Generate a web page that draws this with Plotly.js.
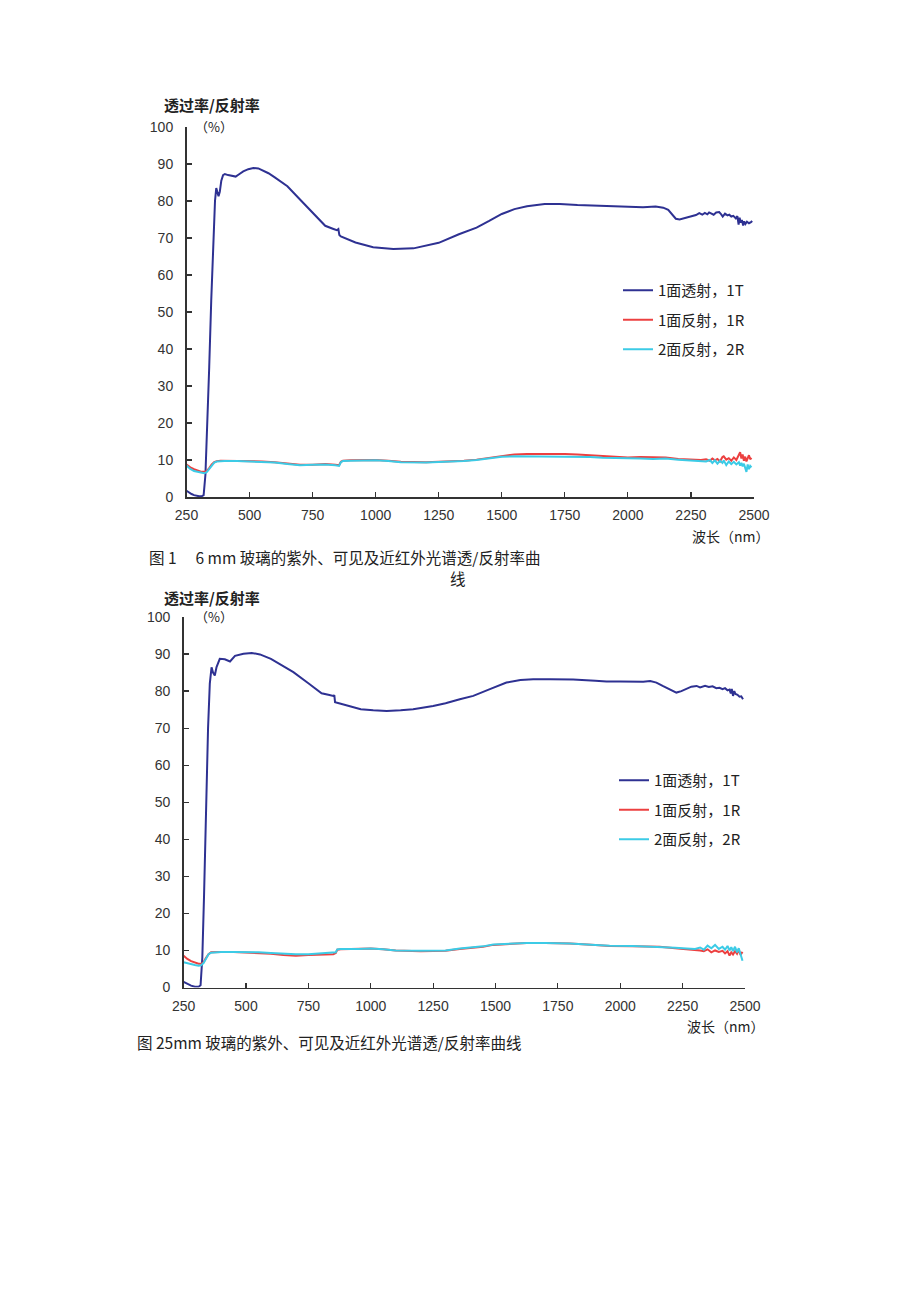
<!DOCTYPE html>
<html>
<head>
<meta charset="utf-8">
<script src="https://cdn.plot.ly/plotly-3.0.1.min.js"></script>
<style>html,body{margin:0;padding:0;background:#fff;}#chart{width:920px;height:1301px;}</style>
</head>
<body>
<div id="chart"></div>
<script>
// ---------- Data ----------
var xTicks = [250, 500, 750, 1000, 1250, 1500, 1750, 2000, 2250, 2500];
var yTicks = [0, 10, 20, 30, 40, 50, 60, 70, 80, 90, 100];
var seriesNames = ["1面透射，1T", "1面反射，1R", "2面反射，2R"];

// Figure 1 (6 mm glass) — transmittance 1T
var fig1_wlT = [250,260,270,280,290,300,310,318,325,332,340,348,356,363,368,372,377,382,388,395,402,415,430,445,460,475,495,515,535,550,575,600,650,700,750,800,830,846,852,856,862,880,920,990,1070,1150,1250,1330,1400,1450,1500,1550,1600,1670,1730,1800,1900,2000,2060,2110,2140,2160,2175,2190,2205,2220,2240,2255,2270,2283,2295,2305,2315,2322,2332,2340,2350,2362,2370,2376,2385,2395,2402,2410,2418,2428,2434,2439,2443,2447,2452,2457,2461,2466,2472,2480,2488,2493];
var fig1_T1 = [1.7,1.2,0.8,0.5,0.3,0.2,0.2,0.5,6,18,35,53,70,80,83.5,82.5,81.3,82.5,85.5,87,87.3,87.0,86.8,86.6,87.3,88.0,88.6,88.9,88.8,88.3,87.5,86.4,84.0,80.4,76.8,73.3,72.5,72.1,72.4,70.8,70.4,69.9,68.8,67.5,67.0,67.2,68.7,71.0,72.8,74.6,76.5,77.8,78.6,79.2,79.2,78.9,78.6,78.4,78.3,78.5,78.2,77.6,76.5,75.2,75.0,75.3,75.6,75.9,76.2,76.7,76.3,76.8,76.4,76.9,76.6,76.3,76.9,77.0,76.4,75.8,76.6,76.1,76.3,75.8,76.0,75.3,75.9,73.6,75.5,74.2,74.9,73.4,74.5,73.8,74.4,74.0,74.3,74.6];

// Figure 1 — reflectance 1R and 2R
var fig1_wlR = [250,265,280,295,310,320,330,340,350,360,370,385,400,450,500,550,600,650,700,750,800,840,855,862,870,900,950,1000,1050,1100,1200,1300,1350,1400,1450,1480,1500,1550,1600,1700,1750,1800,1850,1900,1950,2000,2050,2100,2150,2200,2250,2290,2310,2325,2335,2345,2355,2365,2375,2380,2390,2400,2410,2420,2430,2440,2445,2450,2455,2460,2465,2470,2475,2480,2485,2490];
var fig1_R1 = [8.8,8.0,7.5,7.1,6.8,6.8,7.0,7.8,8.8,9.4,9.7,9.8,9.8,9.8,9.7,9.6,9.4,9.0,8.7,8.7,8.9,8.7,8.6,9.5,9.8,9.9,10.0,10.0,9.8,9.5,9.4,9.6,9.8,10.1,10.6,11.0,11.2,11.5,11.6,11.7,11.6,11.5,11.3,11.0,11.0,10.7,10.8,10.7,10.7,10.3,10.1,10.0,10.2,9.8,10.4,9.9,10.3,9.6,10.8,11.0,10.1,10.5,9.8,10.7,10.0,11.2,12.1,10.4,11.5,9.8,10.9,9.6,10.5,11.3,10.2,10.6];
var fig1_R2 = [8.5,7.6,7.0,6.7,6.5,6.4,6.7,7.6,8.6,9.3,9.6,9.7,9.7,9.7,9.6,9.5,9.3,8.9,8.6,8.7,8.8,8.6,8.4,9.4,9.7,9.8,9.9,9.9,9.7,9.4,9.3,9.5,9.7,10.0,10.4,10.7,10.9,11.0,11.0,11.0,11.0,10.9,10.8,10.6,10.6,10.4,10.4,10.3,10.4,10.1,9.9,9.8,9.6,10.0,9.2,9.9,9.0,9.8,9.2,9.9,8.6,9.6,8.9,9.5,8.8,9.4,8.5,9.2,8.3,9.0,7.6,6.8,8.8,7.5,8.4,8.0];

// Figure 2 (25 mm glass) — transmittance 1T
var fig2_wlT = [250,265,280,295,310,318,325,332,340,348,355,362,368,375,382,395,415,436,456,490,523,556,600,650,690,750,803,830,850,854,857,880,920,960,1010,1064,1120,1170,1250,1300,1357,1411,1480,1544,1600,1651,1720,1811,1900,1945,2000,2050,2092,2120,2145,2170,2200,2225,2245,2265,2285,2306,2320,2340,2355,2370,2385,2398,2410,2420,2430,2438,2443,2447,2452,2457,2462,2470,2478,2485,2492];
var fig2_T1 = [1.5,0.9,0.5,0.2,0.2,0.6,8,25,50,70,82,86.4,85.0,84.2,86.5,88.7,88.6,88.0,89.5,90.1,90.3,89.9,88.7,86.8,85.1,82.1,79.4,79.0,78.7,78.9,77.0,76.6,75.8,75.1,74.8,74.6,74.8,75.1,76.0,76.7,77.8,78.7,80.6,82.3,83.0,83.2,83.2,83.1,82.8,82.6,82.6,82.5,82.5,82.7,82.3,81.4,80.3,79.6,80.0,80.6,81.2,81.4,81.0,81.4,81.1,81.3,80.8,80.9,80.5,80.8,80.2,80.4,79.4,80.6,78.7,80.0,79.2,79.0,78.5,78.6,77.8];

// Figure 2 — reflectance 1R and 2R
var fig2_wlR = [250,265,280,295,310,320,330,340,350,360,380,400,450,500,550,600,650,700,750,800,850,860,866,880,950,1000,1050,1100,1200,1300,1357,1400,1450,1491,1550,1625,1700,1798,1900,1958,2050,2158,2220,2266,2300,2320,2335,2350,2365,2380,2395,2410,2420,2430,2438,2445,2452,2460,2468,2475,2482,2490];
var fig2_R1 = [8.6,7.7,7.1,6.7,6.4,6.4,6.8,8.0,9.0,9.5,9.6,9.6,9.6,9.5,9.4,9.1,8.8,8.6,8.8,9.0,9.0,9.3,10.2,10.3,10.4,10.5,10.3,10.0,9.8,9.9,10.4,10.6,11.0,11.5,11.8,12.0,12.0,11.9,11.5,11.2,11.1,11.0,10.6,10.4,10.2,10.0,9.8,10.3,9.5,10.0,9.6,9.9,9.2,9.8,8.6,9.5,8.9,9.8,9.1,10.2,8.8,9.6];
var fig2_R2 = [6.8,6.5,6.3,6.1,5.9,6.0,6.6,8.0,9.0,9.4,9.6,9.6,9.6,9.6,9.5,9.3,9.1,9.0,9.0,9.2,9.3,9.5,10.3,10.4,10.4,10.5,10.3,10.0,9.9,10.0,10.5,10.7,11.1,11.6,11.8,12.0,12.0,11.9,11.5,11.3,11.2,11.0,10.7,10.5,10.4,10.8,10.2,11.3,10.6,11.5,10.4,11.0,10.2,11.2,10.0,10.9,9.8,11.0,9.5,10.6,9.0,7.2];

var colors = ["#2e3192", "#ec4040", "#3ccbe6"];

// ---------- Traces ----------
function tr(x, y, i, xa, ya, lg) {
  return {
    x: x, y: y, type: "scatter", mode: "lines", name: seriesNames[i],
    line: {color: colors[i], width: 2},
    xaxis: xa, yaxis: ya, legend: lg, legendgroup: lg + "_" + i,
    hoverinfo: "skip"
  };
}
var data = [
  tr(fig1_wlT, fig1_T1, 0, "x", "y", "legend"),
  tr(fig1_wlR, fig1_R1, 1, "x", "y", "legend"),
  tr(fig1_wlR, fig1_R2, 2, "x", "y", "legend"),
  tr(fig2_wlT, fig2_T1, 0, "x2", "y2", "legend2"),
  tr(fig2_wlR, fig2_R1, 1, "x2", "y2", "legend2"),
  tr(fig2_wlR, fig2_R2, 2, "x2", "y2", "legend2")
];

// ---------- Layout ----------
var W = 920, H = 1301;
function px(v) { return v / W; }
function py(v) { return 1 - v / H; }
var tickFont = {family: '"Liberation Sans", Arial, sans-serif', size: 14, color: "#333"};
var cjk = '"Noto Sans CJK SC", "Noto Sans", sans-serif';

function xAx(d0, d1, anchor) {
  return {domain: [px(d0), px(d1)], range: [250, 2500], tickmode: "array", tickvals: xTicks,
    ticks: "inside", ticklen: 5, tickwidth: 1.2, tickcolor: "#333",
    showline: true, linecolor: "#333", linewidth: 1.5, showgrid: false, zeroline: false,
    anchor: anchor, tickfont: tickFont, ticklabelstandoff: 5, fixedrange: true};
}
function yAx(top, bottom, anchor) {
  return {domain: [py(bottom), py(top)], range: [0, 100], tickmode: "array", tickvals: yTicks,
    ticks: "inside", ticklen: 5, tickwidth: 1.2, tickcolor: "#333",
    showline: true, linecolor: "#333", linewidth: 1.5, showgrid: false, zeroline: false,
    anchor: anchor, tickfont: tickFont, ticklabelstandoff: 9, fixedrange: true};
}
function ann(text, x, y, size, xanchor, weight) {
  return {text: text, x: px(x), y: py(y), xref: "paper", yref: "paper",
    xanchor: xanchor || "left", yanchor: "middle", showarrow: false,
    font: {family: cjk, size: size, color: "#222", weight: weight || "normal"}};
}
function legendAt(x, y) {
  return {x: px(x), y: py(y), xref: "paper", yref: "paper", xanchor: "left", yanchor: "top",
    bgcolor: "rgba(0,0,0,0)", borderwidth: 0, tracegroupgap: 7, itemwidth: 30,
    font: {family: cjk, size: 15, color: "#222"}};
}

var layout = {
  width: W, height: H, margin: {l: 0, r: 0, t: 0, b: 0},
  paper_bgcolor: "#ffffff", plot_bgcolor: "#ffffff", showlegend: true,
  font: {family: cjk, color: "#222"},
  xaxis: xAx(186.5, 754, "y"),
  yaxis: yAx(127, 497, "x"),
  xaxis2: xAx(183.6, 745, "y2"),
  yaxis2: yAx(617, 987.5, "x2"),
  legend: legendAt(618, 274),
  legend2: legendAt(614, 764),
  annotations: [
    ann("透过率/反射率", 162, 104, 15, "left", "bold"),
    ann("（%）", 193, 127, 13),
    ann("波长（nm）", 772, 536, 14, "right"),
    ann("图 1　 6 mm 玻璃的紫外、可见及近红外光谱透/反射率曲", 147, 557, 15.5),
    ann("线", 458, 578, 15.5, "center"),
    ann("透过率/反射率", 162, 597, 15, "left", "bold"),
    ann("（%）", 193, 617, 13),
    ann("波长（nm）", 767, 1026, 14, "right"),
    ann("图 25mm 玻璃的紫外、可见及近红外光谱透/反射率曲线", 135, 1042, 15.5)
  ]
};

Plotly.newPlot("chart", data, layout, {staticPlot: true, displayModeBar: false});
</script>
</body>
</html>
